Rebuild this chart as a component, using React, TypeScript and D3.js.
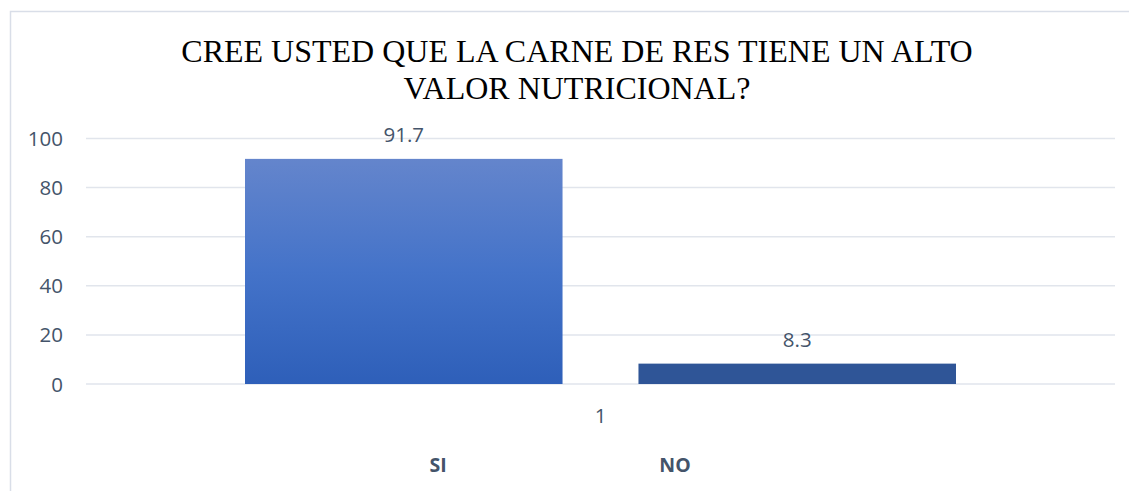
import React from "react";
import * as d3 from "d3";

const titleLines = ["CREE USTED QUE LA CARNE DE RES TIENE UN ALTO", "VALOR NUTRICIONAL?"];
const categories = ["1"];
const seriesNames = ["SI", "NO"];
const seriesValues = [91.7, 8.3];
const yTicks = [0, 20, 40, 60, 80, 100];

const W = 1129;
const H = 491;
const plotLeft = 86;
const plotRight = 1115;
const plotTop = 138.5;
const plotBottom = 384;
const textColor = "#44546A";
const sans = "'Open Sans', 'Liberation Sans', sans-serif";

export default function App() {
  const y = d3.scaleLinear().domain([0, 100]).range([plotBottom, plotTop]);
  const x0 = d3.scaleBand<string>().domain(categories).range([plotLeft, plotRight]).padding(0);
  const groupW = x0.bandwidth();
  const outerGap = groupW * (159 / 1029);
  const x1 = d3
    .scaleBand<string>()
    .domain(seriesNames)
    .range([outerGap, groupW - outerGap])
    .paddingInner(0.193)
    .paddingOuter(0);

  const fills = ["url(#gradSI)", "#2F5597"];

  return (
    <svg width={W} height={H} style={{ display: "block", position: "absolute", left: 0, top: 0 }}>
      <defs>
        <linearGradient id="gradSI" x1="0" y1="0" x2="0" y2="1">
          <stop offset="0%" stopColor="#6485CC" />
          <stop offset="50%" stopColor="#4473C9" />
          <stop offset="100%" stopColor="#2E5FB9" />
        </linearGradient>
      </defs>
      <rect x={0} y={0} width={W} height={H} fill="#FFFFFF" />
      <rect x={10.5} y={11.5} width={W + 20} height={H + 20} fill="none" stroke="#D9DEE8" strokeWidth={1.5} />
      {titleLines.map((t, i) => (
        <text
          key={i}
          x={577}
          y={62 + i * 37}
          textAnchor="middle"
          fontFamily="'Liberation Serif', 'Times New Roman', serif"
          fontSize={32}
          fill="#000000"
        >
          {t}
        </text>
      ))}
      {yTicks.map((t) => (
        <g key={t}>
          <line x1={plotLeft} x2={plotRight} y1={y(t)} y2={y(t)} stroke="#E1E5EC" strokeWidth={1.5} />
          <text x={63} y={y(t) + 7.5} textAnchor="end" fontFamily={sans} fontSize={20.5} fill={textColor}>
            {t}
          </text>
        </g>
      ))}
      {categories.map((c) => (
        <g key={c}>
          {seriesNames.map((s, i) => {
            const bx = (x0(c) ?? 0) + (x1(s) ?? 0);
            const v = seriesValues[i];
            return (
              <g key={s}>
                <rect x={bx} y={y(v)} width={x1.bandwidth()} height={y(0) - y(v)} fill={fills[i]} />
                <text
                  x={bx + x1.bandwidth() / 2}
                  y={y(v) - 17}
                  textAnchor="middle"
                  fontFamily={sans}
                  fontSize={20.5}
                  fill={textColor}
                >
                  {v}
                </text>
              </g>
            );
          })}
          <text
            x={(x0(c) ?? 0) + groupW / 2}
            y={423}
            textAnchor="middle"
            fontFamily={sans}
            fontSize={20.5}
            fill={textColor}
          >
            {c}
          </text>
        </g>
      ))}
      {seriesNames.map((s, i) => (
        <text
          key={s}
          x={[438, 675][i]}
          y={472}
          textAnchor="middle"
          fontFamily={sans}
          fontSize={19.5}
          fontWeight="bold"
          fill={textColor}
        >
          {s}
        </text>
      ))}
    </svg>
  );
}
